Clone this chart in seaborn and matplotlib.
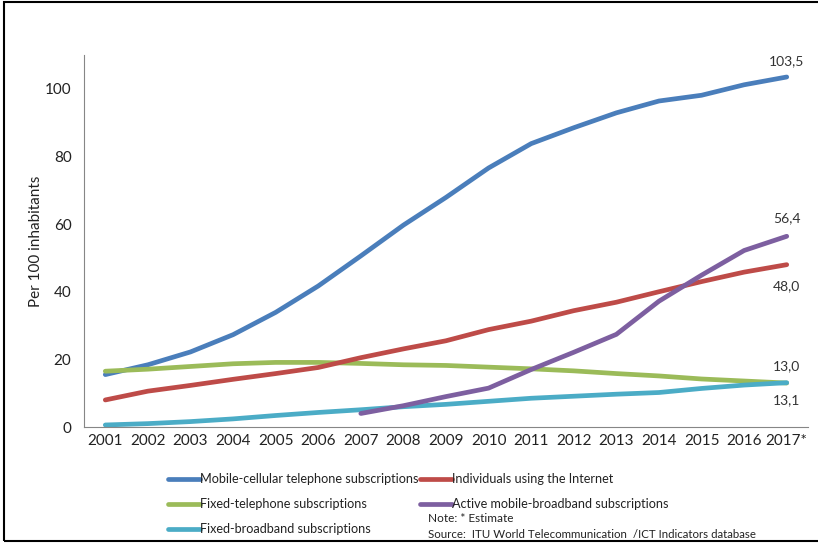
import numpy as np
import pandas as pd
import matplotlib.pyplot as plt
import seaborn as sns
from matplotlib.patches import Rectangle

# data (per 100 inhabitants)
years = ['2001', '2002', '2003', '2004', '2005', '2006', '2007', '2008', '2009',
         '2010', '2011', '2012', '2013', '2014', '2015', '2016', '2017*']
mobile = [15.5, 18.4, 22.2, 27.3, 33.9, 41.7, 50.6, 59.7, 67.9, 76.6, 83.8,
          88.5, 92.9, 96.4, 98.1, 101.2, 103.5]
internet = [8.0, 10.6, 12.3, 14.1, 15.8, 17.6, 20.5, 23.1, 25.5, 28.8, 31.3,
            34.4, 36.9, 40.0, 43.0, 45.8, 48.0]
fixed_tel = [16.5, 17.1, 17.9, 18.7, 19.1, 19.1, 18.8, 18.4, 18.2, 17.7, 17.2,
             16.6, 15.8, 15.1, 14.2, 13.6, 13.0]
mob_bb_years = years[6:]
mob_bb = [4.0, 6.3, 9.0, 11.5, 17.0, 22.1, 27.4, 37.2, 44.9, 52.2, 56.4]
fixed_bb = [0.6, 1.0, 1.6, 2.4, 3.4, 4.3, 5.1, 6.0, 6.7, 7.6, 8.5, 9.1, 9.7,
            10.2, 11.4, 12.4, 13.1]

names = ['Mobile-cellular telephone subscriptions',
         'Fixed-telephone subscriptions',
         'Fixed-broadband subscriptions',
         'Individuals using the Internet',
         'Active mobile-broadband subscriptions']
colors = ['#4A7EBB', '#9BBB59', '#4BACC6', '#BE4B48', '#7D5FA0']

series = [(names[0], years, mobile), (names[1], years, fixed_tel),
          (names[2], years, fixed_bb), (names[3], years, internet),
          (names[4], mob_bb_years, mob_bb)]
rows = []
for name, ys, vals in series:
    for y, v in zip(ys, vals):
        rows.append({'pos': years.index(y), 'value': v, 'series': name})
df = pd.DataFrame(rows)

sns.set_style('white')
plt.rcParams['font.family'] = ['Lato', 'DejaVu Sans']

fig = plt.figure(figsize=(8.18, 5.48), dpi=100)
ax = fig.add_axes([0.1027, 0.2208, 0.8851, 0.6788])

sns.lineplot(data=df, x='pos', y='value', hue='series', hue_order=names,
             palette=colors, linewidth=3.4, ax=ax, legend=True,
             solid_capstyle='round')

ax.set_xlim(-0.5, 16.5)
ax.set_ylim(0, 110)
ax.set_yticks([0, 20, 40, 60, 80, 100])
ax.set_xticks(np.arange(-0.5, 17, 1))
ax.set_xticklabels([])
ax.set_xticks(np.arange(17), minor=True)
ax.set_xticklabels(years, minor=True)
ax.tick_params(axis='x', which='major', length=5, color='#868686', direction='out')
ax.tick_params(axis='x', which='minor', length=0, labelsize=11, colors='#222222', pad=5)
ax.tick_params(axis='y', length=5, color='#868686', direction='out', labelsize=11,
               colors='#222222', pad=4)
for s in ['top', 'right']:
    ax.spines[s].set_visible(False)
for s in ['left', 'bottom']:
    ax.spines[s].set_color('#868686')
    ax.spines[s].set_linewidth(0.8)
ax.set_xlabel('')
ax.set_ylabel('Per 100 inhabitants', fontsize=11, color='#222222', labelpad=1.5)

# end labels
lab = [(103.5, '103,5', 16), (56.4, '56,4', 18), (48.0, '48,0', -21),
       (13.0, '13,0', 17), (13.1, '13,1', -17)]
for v, t, off in lab:
    ax.annotate(t, (16, v), xytext=(0, off), textcoords='offset pixels',
                ha='center', va='center', fontsize=10, color='#333333')

handles, labels = ax.get_legend_handles_labels()
ax.get_legend().remove()
fig.legend(handles, labels, ncol=2, loc='upper left',
           bbox_to_anchor=(168 / 818, 1 - 473 / 548), frameon=False,
           fontsize=9.1, handlelength=2.5, handletextpad=0.05,
           columnspacing=0.1, labelspacing=1.03, borderpad=0,
           borderaxespad=0, labelcolor='#222222')

fig.text(428 / 818, 1 - 519 / 548, 'Note: * Estimate', fontsize=8.5,
         va='center', color='#222222')
fig.text(428 / 818, 1 - 535 / 548,
         'Source:  ITU World Telecommunication  /ICT Indicators database',
         fontsize=8.3, va='center', color='#222222')

fig.patches.append(Rectangle((4 / 818, 1 - 541 / 548), 1.0, 539 / 548,
                             transform=fig.transFigure, fill=False,
                             edgecolor='black', linewidth=1.5))

fig.savefig('out.png', dpi=100)
